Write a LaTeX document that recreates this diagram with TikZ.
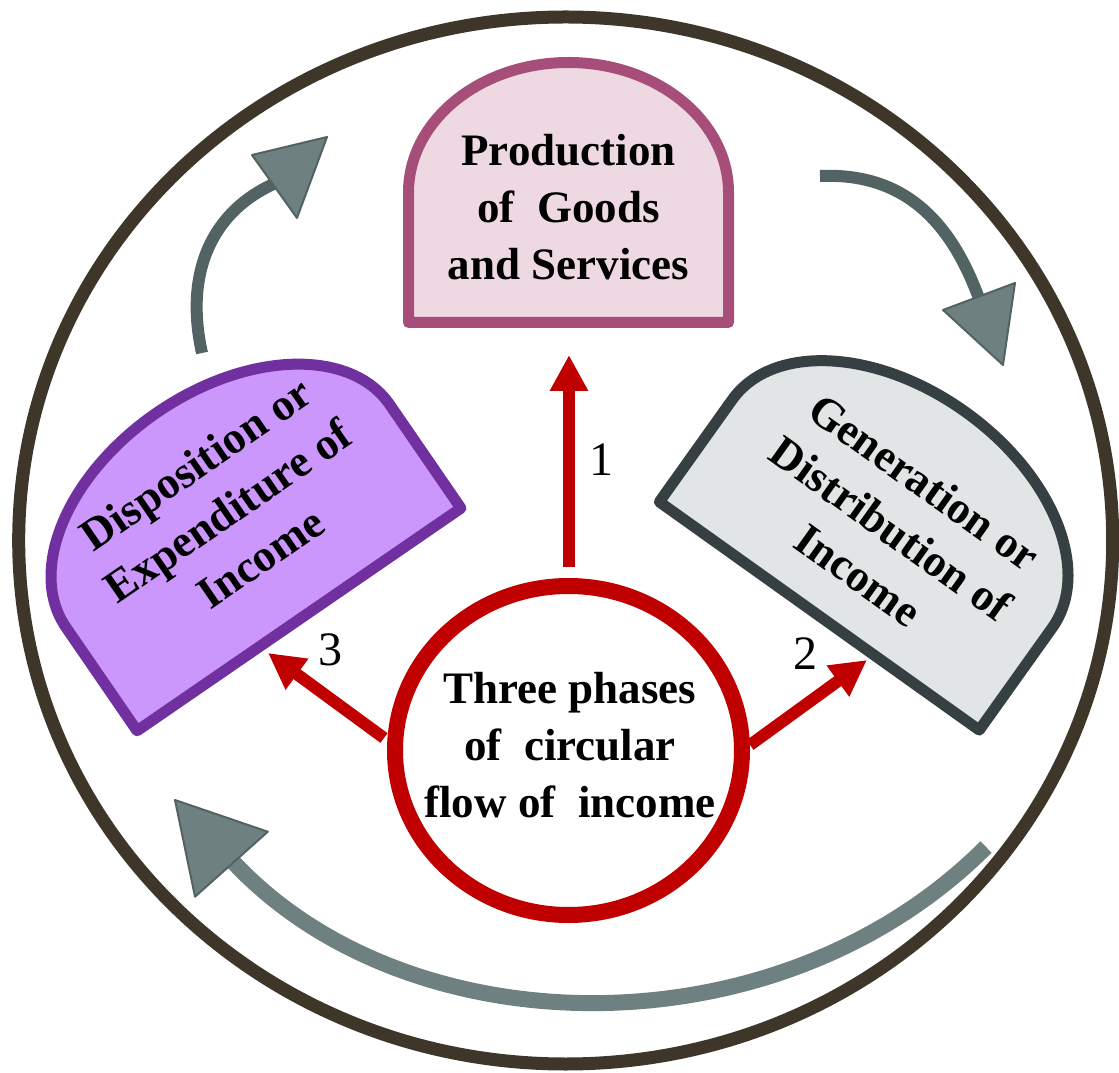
\documentclass[tikz,border=0pt]{standalone}
\usepackage{fontspec}
\setmainfont{Liberation Serif}
\usetikzlibrary{arrows.meta}

\definecolor{ringcol}{HTML}{3D3629}
\definecolor{prodline}{HTML}{A64D79}
\definecolor{prodfill}{HTML}{EED9E2}
\definecolor{displine}{HTML}{7030A0}
\definecolor{dispfill}{HTML}{CB97FC}
\definecolor{genline}{HTML}{363F42}
\definecolor{genfill}{HTML}{E1E5E6}
\definecolor{phasered}{HTML}{C00000}
\definecolor{flowdark}{HTML}{536262}
\definecolor{flowlight}{HTML}{6E8080}

\tikzset{
  boxtext/.style={font=\bfseries\fontsize{22.5}{28.5}\selectfont, align=center, inner sep=0pt},
  numtext/.style={font=\fontsize{24}{28}\selectfont, inner sep=0pt},
  phasearrow/.style={draw=phasered, line width=6pt, -{Triangle[length=18pt,width=18pt]}},
  flowshaft/.style={line width=6pt, draw=flowdark},
  flowhead/.style={fill=flowlight, draw=flowdark, line width=1pt, line join=round},
  boxborder/.style={line width=5.5pt, line join=round},
}

\begin{document}
\begin{tikzpicture}[x=0.5pt, y=0.5pt]
\useasboundingbox (0,0) rectangle (1119,1072);

% outer ring
\draw[ringcol, line width=6.5pt] (565.7,531.5) ellipse [x radius=547, y radius=523.5];

% flow arrows between the phases
\coordinate (f1s) at (202,719);
\coordinate (f1e) at (278,890);
\draw[flowshaft] (f1s) .. controls (184,800) and (212,862) .. (f1e);
\draw[flowhead] (252,917) -- (297,854) -- (327,935) -- cycle;

\coordinate (f2s) at (820,896);
\coordinate (f2e) at (981,768);
\draw[flowshaft] (f2s) .. controls (910,900) and (954.6,843) .. (f2e);
\draw[flowhead] (943,762) -- (1015,789) -- (1003,707) -- cycle;

\coordinate (f3s) at (986,225);
\coordinate (f3e) at (226,218);
\draw[flowshaft, draw=flowlight, line width=8pt] (f3s) .. controls (774,13) and (398,23) .. (f3e);
\draw[flowhead] (175,272) -- (267.8,240.3) -- (195,175.3) -- cycle;

% production box
\begin{scope}[shift={(568.5,749.5)}]
  \draw[boxborder, draw=prodline, fill=prodfill] (-160,0) -- (160,0) -- (160,130)
    arc[start angle=0, end angle=180, x radius=160, y radius=130] -- cycle;
  \node[boxtext] (prodtext) at (0,115) {Production\\of~ Goods\\and Services};
\end{scope}

% disposition box
\begin{scope}[shift={(299,452.5)}, rotate=34.5]
  \draw[boxborder, draw=displine, fill=dispfill] (-196.5,0) -- (196.5,0) -- (196.5,125.5)
    arc[start angle=0, end angle=180, x radius=196.5, y radius=125.5] -- cycle;
  \node[boxtext, rotate=34.5] (disptext) at (3,130) {Disposition or\\Expenditure of\\Income};
\end{scope}

% generation box
\begin{scope}[shift={(819.3,456)}, rotate=-35.5]
  \draw[boxborder, draw=genline, fill=genfill] (-196.5,0) -- (196.5,0) -- (196.5,125.5)
    arc[start angle=0, end angle=180, x radius=196.5, y radius=125.5] -- cycle;
  \node[boxtext, rotate=-35.5] (gentext) at (8,113) {Generation or\\Distribution of\\Income};
\end{scope}

% central hub
\draw[phasered, line width=8pt, fill=white] (568.5,321.5) ellipse [x radius=173.5, y radius=164.5];
\node[boxtext] (hub) at (570,327) {Three phases\\of~ circular\\flow of~ income};

% phase arrows
\coordinate (p1s) at (569,505);
\coordinate (p1e) at (569,717);
\coordinate (p2s) at (750,327);
\coordinate (p2e) at (867,412);
\coordinate (p3s) at (384,334);
\coordinate (p3e) at (268,419);
\draw[phasearrow] (p1s) -- (p1e);
\draw[phasearrow] (p2s) -- (p2e);
\draw[phasearrow] (p3s) -- (p3e);

\node[numtext] (n1) at (601,612) {1};
\node[numtext] (n2) at (805,418) {2};
\node[numtext] (n3) at (330,422) {3};
\end{tikzpicture}
\end{document}
